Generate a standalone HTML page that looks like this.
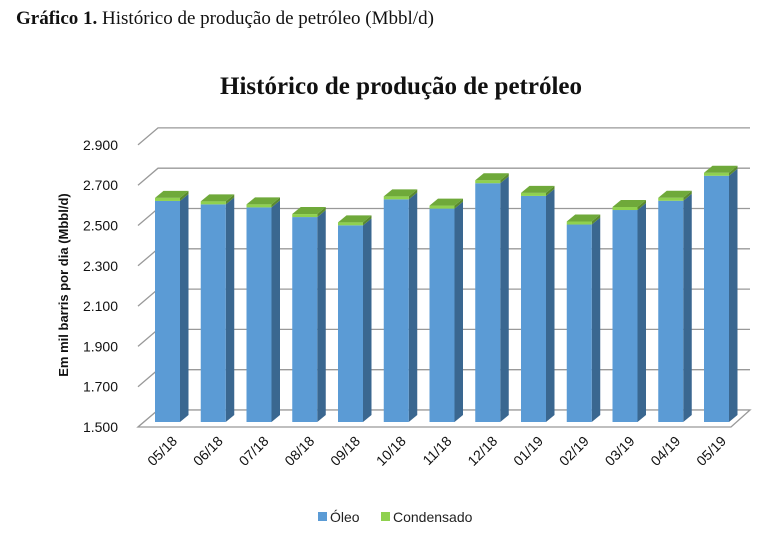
<!DOCTYPE html>
<html><head><meta charset="utf-8"><style>
body{margin:0;background:#fff;width:761px;height:536px;overflow:hidden}
svg{display:block}
</style></head><body>
<svg width="761" height="536" id="c">
<text x="16" y="24" font-family="Liberation Serif, serif" font-size="19" fill="#111"><tspan font-weight="bold">Gráfico 1.</tspan> Histórico de produção de petróleo (Mbbl/d)</text>
<text x="401" y="94" text-anchor="middle" font-family="Liberation Serif, serif" font-weight="bold" font-size="25" fill="#111">Histórico de produção de petróleo</text>
<text transform="translate(68,285) rotate(-90)" text-anchor="middle" font-family="Liberation Sans, sans-serif" font-weight="bold" font-size="13" fill="#111">Em mil barris por dia (Mbbl/d)</text>
<g id="grid"></g><g id="bars"></g><g id="labels"></g>
<g>
<rect x="318" y="512" width="9" height="9" fill="#5b9bd5"/>
<text x="330" y="522" font-family="Liberation Sans, sans-serif" font-size="14" fill="#222">Óleo</text>
<rect x="381" y="512" width="9" height="9" fill="#8fd14f"/>
<text x="393" y="522" font-family="Liberation Sans, sans-serif" font-size="14" fill="#222">Condensado</text>
</g>
</svg>
<script>
const categories=["05/18","06/18","07/18","08/18","09/18","10/18","11/18","12/18","01/19","02/19","03/19","04/19","05/19"];
const oleo=[2597,2580,2565,2517,2476,2605,2559,2685,2622,2480,2552,2598,2722];
const condensado=[15,15,15,15,15,15,15,15,15,15,15,15,15];
const ticks=[1500,1700,1900,2100,2300,2500,2700,2900];
const tickLabels=["1.500","1.700","1.900","2.100","2.300","2.500","2.700","2.900"];
const NS="http://www.w3.org/2000/svg";
function el(t,a,p){const e=document.createElementNS(NS,t);for(const k in a)e.setAttribute(k,a[k]);p.appendChild(e);return e;}
const frontY=v=>427-(v-1500)*0.2015;
const barY=v=>422-(v-1500)*0.2015;
const DX=20,DY=-17;
const grid=document.getElementById('grid'),bars=document.getElementById('bars'),labels=document.getElementById('labels');
ticks.forEach((t,i)=>{
 const y=frontY(t);
 const g=el('polyline',{points:`${138},${y} ${138+DX},${y+DY} 750,${y+DY}`,fill:'none',stroke:'#999','stroke-width':1.3},grid);
 
 
 const tx=el('text',{x:118,y:y+5,'text-anchor':'end','font-family':'Liberation Sans, sans-serif','font-size':14,fill:'#111'},labels);
 tx.textContent=tickLabels[i];
 
 
});
const floor=el('polygon',{points:`138,427 ${138+DX},${427+DY} 750,${427+DY} 731,427`,fill:'#ffffff',stroke:'#999','stroke-width':1.3},grid);


const bx=i=>155+i*45.75,W=25,sx=8.5,sy=-7;
categories.forEach((c,i)=>{
 const x=bx(i),b=barY(1500),yo=barY(oleo[i]),yc=barY(oleo[i]+condensado[i]);
 const g=el('g',{},bars);
 
 
 el('polygon',{points:`${x+W},${b} ${x+W+sx},${b+sy} ${x+W+sx},${yo+sy} ${x+W},${yo}`,fill:'#3a6790'},g);
 el('rect',{x:x,y:yo,width:W,height:b-yo,fill:'#5b9bd5'},g);
 el('polygon',{points:`${x+W},${yo} ${x+W+sx},${yo+sy} ${x+W+sx},${yc+sy} ${x+W},${yc}`,fill:'#5a8a2e'},g);
 el('rect',{x:x,y:yc,width:W,height:yo-yc,fill:'#8fd14f'},g);
 el('polygon',{points:`${x},${yc} ${x+sx},${yc+sy} ${x+W+sx},${yc+sy} ${x+W},${yc}`,fill:'#6fa93a'},g);
 const t=el('text',{transform:`translate(${x+W-2},${442}) rotate(-45)`,'text-anchor':'end','font-family':'Liberation Sans, sans-serif','font-size':14,fill:'#111'},labels);
 t.textContent=c;
 
 
});
</script>
</body></html>
